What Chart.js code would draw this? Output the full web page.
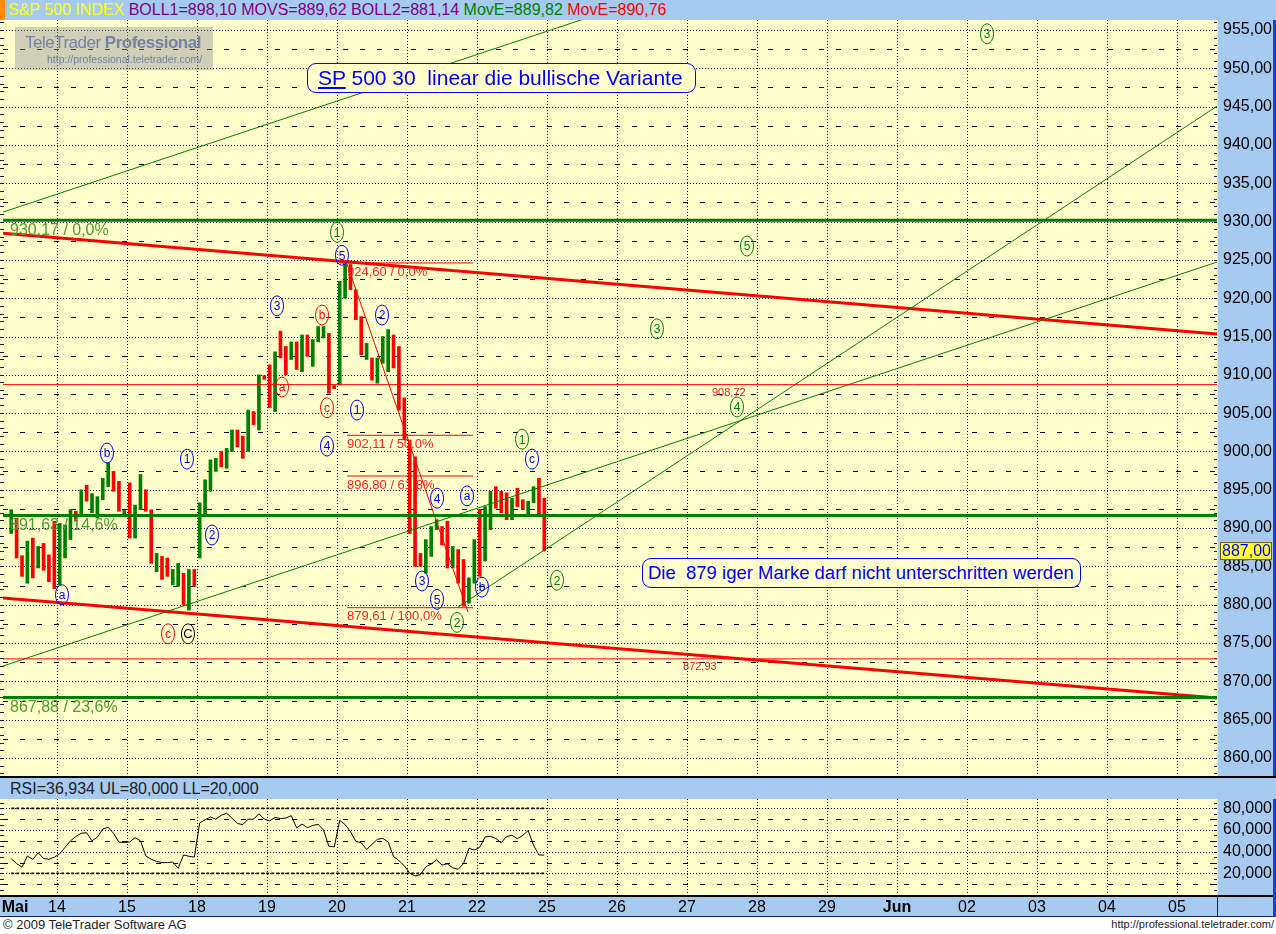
<!DOCTYPE html>
<html><head><meta charset="utf-8">
<script src="https://cdn.jsdelivr.net/npm/chart.js@4.4.1/dist/chart.umd.min.js"></script>
<style>
html,body{margin:0;padding:0;background:#fff;width:1276px;height:934px;overflow:hidden;font-family:Arial,'Liberation Sans',sans-serif;}
.abs{position:absolute;}
#hdr{left:0;top:0;width:1276px;height:20px;background:#a6caf0;font-size:16px;line-height:20px;white-space:nowrap;}
#hdr .o{position:absolute;left:0;top:0;width:5px;height:20px;background:#ff8c00;}
#hdr .t{position:absolute;left:8px;top:0;}
#mainWrap{left:0;top:20px;width:1276px;height:756px;background:#a6caf0;}
#sep{left:0;top:776px;width:1276px;height:2px;background:#000;}
#rsiHdr{left:0;top:778px;width:1276px;height:21px;background:#a6caf0;font-size:16px;line-height:21px;color:#222;}
#rsiWrap{left:0;top:799px;width:1276px;height:118px;background:#a6caf0;}
.rb{left:1273px;width:3px;background:#1c3fc8;}
#logo{left:15px;top:27px;width:198px;height:43px;background:rgba(150,150,160,0.45);color:#7782a4;}
#logo .a{position:absolute;left:10px;top:6px;font-size:17px;letter-spacing:-0.5px;white-space:nowrap;}
#logo .b{position:absolute;left:32px;top:26px;font-size:10.5px;white-space:nowrap;}
.box{border:1px solid #0000ff;border-radius:9px;background:#ffffcc;color:#0000ff;white-space:nowrap;box-sizing:border-box;}
#box1{left:307px;top:63px;width:389px;height:30px;font-size:21px;line-height:28px;padding-left:10px;}
#box2{left:642px;top:558px;width:439px;height:30px;font-size:18.5px;line-height:28px;padding-left:5px;}
#copy{left:3px;top:917px;font-size:13px;color:#222;}
#url{right:2px;top:918px;font-size:11px;color:#222;}
</style>
</head><body>
<div id="hdr" class="abs"><div class="o"></div><div class="t"><span style="color:#ffff00">S&amp;P 500 INDEX</span> <span style="color:#800080">BOLL1=898,10 MOVS=889,62 BOLL2=881,14</span> <span style="color:#008000">MovE=889,82</span> <span style="color:#ff0000">MovE=890,76</span></div></div>
<div id="mainWrap" class="abs"><canvas id="main" width="1276" height="756"></canvas></div>
<div class="abs rb" style="top:20px;height:756px"></div>
<div id="sep" class="abs"></div>
<div id="rsiHdr" class="abs"><span style="position:absolute;left:10px">RSI=36,934 UL=80,000 LL=20,000</span></div>
<div id="rsiWrap" class="abs"><canvas id="rsi" width="1276" height="118"></canvas></div>
<div class="abs rb" style="top:799px;height:118px"></div>
<div id="logo" class="abs"><div class="a">TeleTrader <b>Professional</b></div><div class="b">http://professional.teletrader.com/</div></div>
<div id="box1" class="abs box"><u>SP</u> 500 30&nbsp; linear die bullische Variante</div>
<div id="box2" class="abs box">Die&nbsp; 879 iger Marke darf nicht unterschritten werden</div>
<div id="copy" class="abs">© 2009 TeleTrader Software AG</div>
<div id="url" class="abs">http://professional.teletrader.com/</div>
<script>
// ================= DATA =================
const dayLabels = ['Mai','14','15','18','19','20','21','22','25','26','27','28','29','Jun','02','03','04','05'];
const dayTickValues = [0.4,1,2,3,4,5,6,7,8,9,10,11,12,13,14,15,16,17];
const barsPerDay = 13;        // 30-minute bars per session
const firstBarSlot = 4;       // first visible bar of the first session (13 May)
const xMin = 0.2286, xMax = 17.5714;

const barLow = [
 889.3,886.1,883.7,882.8,883.5,884.8,884.5,883.0,882.1,
 882.6,886.1,888.5,890.9,891.7,893.5,892.0,891.3,893.7,895.4,894.8,892.2,891.8,
 888.7,888.7,892.4,892.2,885.4,884.3,883.3,883.7,882.6,882.4,880.0,879.3,882.4,
 886.1,891.5,894.8,897.4,898.0,897.8,900.0,900.6,899.1,900.0,903.5,902.8,909.4,
 905.7,905.2,912.2,910.0,912.0,910.7,910.4,912.4,911.1,914.3,914.8,907.6,908.2,
 908.7,920.0,921.1,917.2,912.6,912.0,909.3,908.9,911.5,910.4,910.9,905.4,901.5,
 889.3,885.0,885.0,884.1,886.3,889.8,887.8,884.8,884.8,882.8,879.8,880.2,882.8,
 883.7,885.7,889.8,892.6,892.0,891.1,891.1,892.8,892.4,891.5,893.3,891.5,887.0
];
const barHigh = [
 892.4,891.3,886.4,888.3,888.7,887.6,888.0,886.5,890.9,
 890.6,890.4,892.4,892.2,895.0,895.6,894.5,894.1,896.5,898.5,897.4,896.1,892.3,
 895.9,893.0,897.0,895.0,892.4,886.7,886.3,886.1,884.6,885.4,884.1,884.6,884.6,
 893.3,896.3,898.9,899.1,900.0,900.4,902.8,902.8,902.0,905.4,905.2,910.0,909.9,
 911.3,913.0,915.7,913.7,914.3,914.3,915.2,915.2,914.6,916.3,916.3,915.4,908.6,
 922.2,924.6,924.4,921.1,917.6,914.1,912.2,912.2,915.0,915.9,915.2,913.7,907.0,
 901.5,899.3,886.7,888.5,890.2,891.1,890.2,890.9,887.6,887.2,885.9,883.5,888.5,
 892.4,892.8,894.8,895.4,894.8,894.6,893.9,895.2,893.7,893.5,895.4,896.5,893.9
];
const barUp = [
 1,0,0,1,0,1,0,0,0,
 1,1,1,0,1,0,1,1,1,1,0,0,1,
 0,1,1,0,0,1,0,0,1,1,0,1,0,
 1,1,1,1,0,1,1,0,0,1,0,1,0,
 0,1,0,0,1,0,1,0,1,1,1,0,0,
 1,1,0,0,0,1,0,1,1,1,0,0,0,
 0,0,0,1,1,1,0,0,1,0,0,1,1,
 0,1,1,0,0,0,1,0,0,1,1,0,0
];
const rsiValues = [
 33.6,29.0,25.8,36.0,32.9,39.1,33.8,33.0,35.0,
 38.0,44.0,50.0,54.0,57.0,57.5,50.0,53.5,61.0,62.5,57.0,48.8,48.5,
 49.0,53.0,50.0,36.0,33.0,31.0,30.0,30.0,30.5,24.6,37.0,35.8,35.0,
 66.5,69.5,72.0,70.0,73.5,75.5,71.0,66.0,65.0,70.0,70.0,75.0,70.0,
 68.5,71.6,70.6,71.0,73.3,62.0,65.5,62.2,64.2,65.3,60.0,45.0,44.5,
 68.9,65.0,58.5,49.5,48.3,42.0,46.8,51.5,52.3,49.0,35.5,31.8,27.0,
 20.2,17.6,19.0,26.0,28.7,32.5,27.7,28.8,25.2,23.8,29.0,43.2,41.5,
 44.0,53.6,54.2,52.2,48.3,54.0,55.2,52.0,55.0,59.6,46.0,37.0,36.9
];
const rsiUpper = 80, rsiLower = 20;
const lastPrice = 887.00;

const greenLevels = [930.17, 891.63, 867.88];
const greenLevelText = ['930,17 / 0,0%', '891,63 / 14,6%', '867,88 / 23,6%'];
const greenLevelTextAt = 0.3286;
const redLevels = [908.72, 872.93];
const redLevelText = ['908,72', '872,93'];
const redLevelTextAt = [10.357, 9.943];
const fibLevels = [924.60, 902.11, 896.80, 879.61];
const fibText = ['924,60 / 0,0%', '902,11 / 50,0%', '896,80 / 61,8%', '879,61 / 100,0%'];
const fibFrom = [5.043, 5.143, 5.143, 5.143];
const fibTo = 6.943;
// trend lines: [day1, price1, day2, price2]
const greenTrends = [[0.2286,931.23,17.5714,983.9],[0.2286,872.0,17.5714,924.71],[6.729,879.7,17.5714,945.06]];
const redTrends = [[0.2286,928.46,17.5714,915.32],[0.2286,880.87,17.5714,867.83]];
const waveTrend = [5.138,924.58,6.871,879.05];

const waveText  = ['a','b','1','2','c','C','3','a','b','c','4','5','1','1','2','3','4','5','a','b','2','1','c','2','3','4','5','3'];
const waveDay   = [1.071,1.714,2.857,3.214,2.586,2.871,4.143,4.214,4.786,4.857,4.857,5.071,5.0,5.286,5.643,6.214,6.429,6.429,6.857,7.071,6.714,7.643,7.786,8.143,9.571,10.714,10.857,14.286];
const wavePrice = [881.3,899.8,899.0,889.1,876.2,876.2,919.0,908.4,917.8,905.7,900.7,925.6,928.6,905.4,917.8,883.1,893.9,880.7,894.2,882.3,877.7,901.6,899.0,883.2,916.0,905.8,926.8,954.5];
const waveColor = ['b','b','b','b','r','k','b','r','r','r','b','b','g','b','b','b','b','b','b','b','g','g','b','g','g','g','g','g'];

// ================= CHART =================
const COL = {b:'#0000ff', r:'#ff0000', g:'#008000', k:'#000000'};
const FONT = "Arial, 'Liberation Sans', sans-serif";
const barX = barLow.map((_, k) => { const s = k + firstBarSlot; return Math.floor(s / barsPerDay) + ((s % barsPerDay) + 0.5) / barsPerDay; });

function seg(a, color, width, dash) {
  return {type:'line', data:[{x:a[0],y:a[1]},{x:a[2],y:a[3]}], borderColor:color, borderWidth:width, borderDash:dash||[], pointRadius:0, fill:false, tension:0, order:1};
}
const mainSets = [];
greenLevels.forEach(p => mainSets.push(seg([xMin,p,xMax,p], '#008000', 3)));
redLevels.forEach(p => mainSets.push(seg([xMin,p,xMax,p], '#ff0000', 1)));
fibLevels.forEach((p,i) => mainSets.push(seg([fibFrom[i],p,fibTo,p], '#ff0000', 1)));
greenTrends.forEach(t => mainSets.push(seg(t, '#008000', 1)));
redTrends.forEach(t => mainSets.push(seg(t, '#ff0000', 3)));
mainSets.push(seg(waveTrend, '#ff0000', 1));
mainSets.push({type:'bar', data: barX.map((x,k)=>({x, y:[barLow[k], barHigh[k]]})),
  backgroundColor: barUp.map(u => u ? '#008000' : '#ff0000'), borderWidth:0, barThickness:3, grouped:false, order:5});

function fillPlot(chart){
  const {ctx, chartArea:a} = chart;
  ctx.fillStyle = '#ffffcc';
  ctx.fillRect(0, a.top, a.right, a.bottom - a.top);
  ctx.fillStyle = '#f2e6a6';
  ctx.fillRect(a.right, a.top, 1, a.bottom - a.top);
}
function vGrid(chart){
  const {ctx, chartArea:a, scales:{x}} = chart;
  ctx.setLineDash([1,2]);
  for (let d = Math.ceil(x.min); d <= x.max; d++) {
    const px = Math.round(x.getPixelForValue(d)) + 0.5;
    ctx.beginPath(); ctx.moveTo(px, a.top); ctx.lineTo(px, a.bottom); ctx.stroke();
  }
}
function hGrid(chart, step){
  const {ctx, chartArea:a, scales:{y}} = chart;
  for (let k = Math.ceil(y.min/(step/2)); k*(step/2) <= y.max; k++) {
    const py = Math.round(y.getPixelForValue(k*step/2)) + 0.5;
    ctx.setLineDash(k % 2 === 0 ? [1,2] : [5,12]);
    ctx.beginPath(); ctx.moveTo(a.left, py); ctx.lineTo(a.right, py); ctx.stroke();
  }
}
function ruler(chart, step){
  const {ctx, chartArea:a, scales:{y}} = chart;
  ctx.setLineDash([]); ctx.strokeStyle = '#1a1a40'; ctx.lineWidth = 1;
  for (let p = Math.ceil(y.min/step)*step; p <= y.max; p += step) {
    const py = Math.round(y.getPixelForValue(p)) + 0.5;
    ctx.beginPath(); ctx.moveTo(0, py); ctx.lineTo(4, py); ctx.stroke();
    ctx.beginPath(); ctx.moveTo(a.right-3, py); ctx.lineTo(a.right, py); ctx.stroke();
  }
}

const mainDeco = {
  id:'mainDeco',
  beforeDatasetsDraw(chart){
    const {ctx, chartArea:a} = chart;
    ctx.save();
    fillPlot(chart);
    ruler(chart, 1);
    ctx.beginPath(); ctx.rect(a.left, a.top, a.right-a.left, a.bottom-a.top); ctx.clip();
    ctx.strokeStyle = '#000'; ctx.lineWidth = 1;
    hGrid(chart, 5);
    vGrid(chart);
    ctx.restore();
  },
  afterDatasetsDraw(chart){
    const {ctx, chartArea:a, scales:{x,y}} = chart;
    ctx.save();
    ctx.beginPath(); ctx.rect(a.left, a.top, a.right-a.left, a.bottom-a.top); ctx.clip();
    ctx.textBaseline = 'top'; ctx.textAlign = 'left';
    ctx.font = '16px ' + FONT; ctx.fillStyle = '#4f9a2c';
    greenLevels.forEach((p,i) => ctx.fillText(greenLevelText[i], x.getPixelForValue(greenLevelTextAt), y.getPixelForValue(p) + 2));
    ctx.font = '13px ' + FONT; ctx.fillStyle = '#ff2020';
    fibLevels.forEach((p,i) => ctx.fillText(fibText[i], x.getPixelForValue(5.143), y.getPixelForValue(p) + 2.5));
    ctx.font = '11px ' + FONT; ctx.fillStyle = '#e02020';
    redLevels.forEach((p,i) => ctx.fillText(redLevelText[i], x.getPixelForValue(redLevelTextAt[i]), y.getPixelForValue(p) + 2.5));
    ctx.textAlign = 'center'; ctx.textBaseline = 'middle';
    waveText.forEach((t,i) => {
      const px = x.getPixelForValue(waveDay[i]), py = y.getPixelForValue(wavePrice[i]);
      const c = COL[waveColor[i]];
      ctx.strokeStyle = c; ctx.lineWidth = 1;
      ctx.beginPath(); ctx.ellipse(px, py, 6.5, 10, 0, 0, Math.PI*2); ctx.stroke();
      ctx.fillStyle = c; ctx.font = (t === 'C' ? '13px ' : '12px ') + FONT;
      ctx.fillText(t, px, py + 1);
    });
    ctx.restore();
  },
  afterDraw(chart){
    const {ctx, chartArea:a, scales:{y}} = chart;
    const py = y.getPixelForValue(lastPrice);
    ctx.save();
    ctx.fillStyle = '#ffff33'; ctx.fillRect(a.right + 3, py - 9, 52, 18);
    ctx.strokeStyle = '#6b5a00'; ctx.lineWidth = 1; ctx.strokeRect(a.right + 3.5, py - 8.5, 51, 17);
    ctx.fillStyle = '#0000ff'; ctx.font = '16px ' + FONT; ctx.textAlign = 'left'; ctx.textBaseline = 'middle';
    ctx.fillText(lastPrice.toFixed(2).replace('.', ','), a.right + 5, py + 1);
    ctx.restore();
  }
};

new Chart(document.getElementById('main'), {
  type:'bar',
  data:{datasets: mainSets},
  options:{
    responsive:false, animation:false, events:[],
    layout:{padding:{left:3, top:0, right:0, bottom:0}},
    plugins:{legend:{display:false}, tooltip:{enabled:false}},
    scales:{
      x:{type:'linear', min:xMin, max:xMax, display:false, offset:false, grid:{offset:false}},
      y:{position:'right', min:857.65, max:956.30,
         afterFit(s){ s.width = 59; s.paddingTop = 0; s.paddingBottom = 0; },
         grid:{display:false, drawTicks:false}, border:{display:false},
         ticks:{stepSize:5, includeBounds:false, autoSkip:false, padding:6, color:'#000', font:{family:FONT, size:16},
                callback: v => v.toFixed(2).replace('.', ',')}}
    }
  },
  plugins:[mainDeco]
});

// ================= RSI =================
const rsiDeco = {
  id:'rsiDeco',
  beforeDatasetsDraw(chart){
    const {ctx, chartArea:a} = chart;
    ctx.save();
    fillPlot(chart);
    ruler(chart, 5);
    ctx.beginPath(); ctx.rect(a.left, a.top, a.right-a.left, a.bottom-a.top); ctx.clip();
    ctx.strokeStyle = '#000'; ctx.lineWidth = 1;
    hGrid(chart, 20);
    vGrid(chart);
    ctx.restore();
  },
  afterDraw(chart){
    const {ctx, chartArea:a} = chart;
    ctx.save();
    ctx.fillStyle = '#000';
    ctx.fillRect(0, a.bottom, chart.width, 2);
    ctx.fillStyle = '#10206a';
    ctx.fillRect(0, chart.height - 1, chart.width, 1);
    ctx.fillRect(a.right, a.bottom, 1, chart.height - a.bottom);
    ctx.restore();
  }
};
new Chart(document.getElementById('rsi'), {
  data:{datasets:[
    {type:'line', data: barX.map((x,k)=>({x, y:rsiValues[k]})), borderColor:'#000', borderWidth:1, pointRadius:0, tension:0, fill:false, order:0},
    {type:'line', data:[{x:barX[0],y:rsiUpper},{x:barX[barX.length-1],y:rsiUpper}], borderColor:'#111', borderWidth:1.6, borderDash:[3,2], pointRadius:0, order:1},
    {type:'line', data:[{x:barX[0],y:rsiLower},{x:barX[barX.length-1],y:rsiLower}], borderColor:'#111', borderWidth:1.6, borderDash:[3,2], pointRadius:0, order:1}
  ]},
  options:{
    responsive:false, animation:false, events:[],
    layout:{padding:{left:3, top:0, right:0, bottom:0}},
    plugins:{legend:{display:false}, tooltip:{enabled:false}},
    scales:{
      x:{type:'linear', min:xMin, max:xMax, offset:false, position:'bottom',
         afterBuildTicks(s){ s.ticks = dayTickValues.map(v => ({value:v})); },
         afterFit(s){ s.height = 22; s.paddingLeft = 0; s.paddingRight = 0; },
         grid:{display:false, drawTicks:false}, border:{display:false},
         ticks:{autoSkip:false, maxRotation:0, minRotation:0, padding:3, color:'#000',
                font: c => ({family:FONT, size:16, weight:(c.index === 0 || c.index === 13) ? 'bold' : 'normal'}),
                callback:(v,i) => dayLabels[i]}},
      y:{position:'right', min:0.1, max:88.6,
         afterFit(s){ s.width = 59; s.paddingTop = 0; s.paddingBottom = 0; },
         grid:{display:false, drawTicks:false}, border:{display:false},
         ticks:{stepSize:20, includeBounds:false, autoSkip:false, padding:6, color:'#000', font:{family:FONT, size:16},
                callback: v => v.toFixed(3).replace('.', ',')}}
    }
  },
  plugins:[rsiDeco]
});
</script>
</body></html>
